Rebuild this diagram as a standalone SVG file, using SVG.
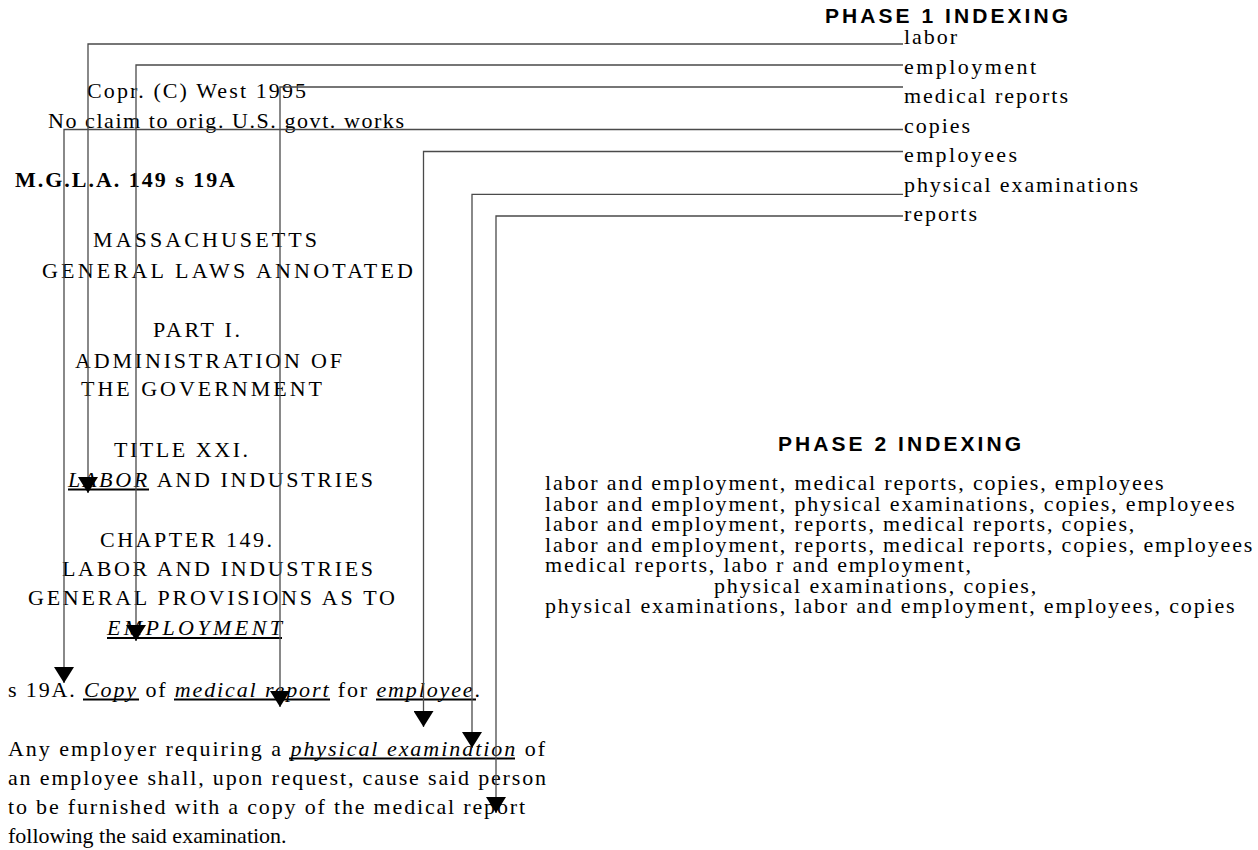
<svg xmlns="http://www.w3.org/2000/svg" width="1258" height="850" viewBox="0 0 1258 850">
<style>
  .t { font-family: "Liberation Serif", "Times New Roman", serif; font-size: 22px; fill: #000; }
  .b { font-weight: bold; }
  .h { font-family: "Liberation Sans", Arial, sans-serif; font-size: 21px; font-weight: bold; fill: #000; }
  .i { font-style: italic; }
  .ul { stroke: #000; stroke-width: 2; }
  .p2 { letter-spacing: 1.84px; }
  .c { fill: none; stroke: #4a4a4a; stroke-width: 1.3; marker-end: url(#arr); }
</style>
<defs>
  <marker id="arr" markerUnits="userSpaceOnUse" viewBox="0 0 16 20" refX="16" refY="10" markerWidth="16" markerHeight="20" orient="auto">
    <path d="M0,0 L16,10 L0,20 Z" fill="#000"/>
  </marker>
</defs>
<rect width="1258" height="850" fill="#fff"/>

<g id="document">
  <text class="t" x="87" y="98" textLength="219" lengthAdjust="spacing">Copr. (C) West 1995</text>
  <text class="t" x="48" y="128" textLength="356" lengthAdjust="spacing">No claim to orig. U.S. govt. works</text>
  <text class="t b" x="15" y="187" textLength="220" lengthAdjust="spacing">M.G.L.A. 149 s 19A</text>
  <text class="t" x="93" y="247" textLength="224" lengthAdjust="spacing">MASSACHUSETTS</text>
  <text class="t" x="42" y="278" textLength="371" lengthAdjust="spacing">GENERAL LAWS ANNOTATED</text>
  <text class="t" x="153" y="337" textLength="87" lengthAdjust="spacing">PART I.</text>
  <text class="t" x="75" y="368" textLength="267" lengthAdjust="spacing">ADMINISTRATION OF</text>
  <text class="t" x="81" y="396" textLength="241" lengthAdjust="spacing">THE GOVERNMENT</text>
  <text class="t" x="114" y="457" textLength="134" lengthAdjust="spacing">TITLE XXI.</text>
  <text class="t" x="68" y="487" textLength="305" lengthAdjust="spacing"><tspan class="i">LABOR</tspan> AND INDUSTRIES</text>
  <text class="t" x="100" y="547" textLength="172" lengthAdjust="spacing">CHAPTER 149.</text>
  <text class="t" x="62" y="576" textLength="311" lengthAdjust="spacing">LABOR AND INDUSTRIES</text>
  <text class="t" x="28" y="605" textLength="367" lengthAdjust="spacing">GENERAL PROVISIONS AS TO</text>
  <text class="t i" x="107" y="635" textLength="175" lengthAdjust="spacing">EMPLOYMENT</text>
  <text class="t" x="8" y="697" textLength="472" lengthAdjust="spacing">s 19A. <tspan class="i">Copy</tspan> of <tspan class="i">medical report</tspan> for <tspan class="i">employee</tspan>.</text>
  <text class="t" x="8" y="756" textLength="537" lengthAdjust="spacing">Any employer requiring a <tspan class="i">physical examination</tspan> of</text>
  <text class="t" x="8" y="785" textLength="538" lengthAdjust="spacing">an employee shall, upon request, cause said person</text>
  <text class="t" x="8" y="814" textLength="517" lengthAdjust="spacing">to be furnished with a copy of the medical report</text>
  <text class="t" x="8" y="843">following the said examination.</text>
  <g id="underlines">
    <line class="ul" x1="68" y1="489.5" x2="149" y2="489.5"/>
    <line class="ul" x1="107" y1="638" x2="282" y2="638"/>
    <line class="ul" x1="83" y1="699.5" x2="139" y2="699.5"/>
    <line class="ul" x1="174" y1="699.5" x2="330" y2="699.5"/>
    <line class="ul" x1="376" y1="699.5" x2="476" y2="699.5"/>
    <line class="ul" x1="289" y1="758.5" x2="515" y2="758.5"/>
  </g>
</g>

<g id="phase1">
  <text class="h" x="825" y="23" textLength="243" lengthAdjust="spacing">PHASE 1 INDEXING</text>
  <g id="term-labor"><text class="t" x="904" y="44" textLength="53" lengthAdjust="spacing">labor</text></g>
  <g id="term-employment"><text class="t" x="904" y="73.5" textLength="132" lengthAdjust="spacing">employment</text></g>
  <g id="term-medical-reports"><text class="t" x="904" y="103" textLength="164" lengthAdjust="spacing">medical reports</text></g>
  <g id="term-copies"><text class="t" x="904" y="132.5" textLength="66" lengthAdjust="spacing">copies</text></g>
  <g id="term-employees"><text class="t" x="904" y="162" textLength="113" lengthAdjust="spacing">employees</text></g>
  <g id="term-physical-examinations"><text class="t" x="904" y="192" textLength="234" lengthAdjust="spacing">physical examinations</text></g>
  <g id="term-reports"><text class="t" x="904" y="221" textLength="73" lengthAdjust="spacing">reports</text></g>
</g>

<g id="phase2">
  <text class="h" x="778" y="451" textLength="243" lengthAdjust="spacing">PHASE 2 INDEXING</text>
  <text class="t p2" x="545" y="490">labor and employment, medical reports, copies, employees</text>
  <text class="t p2" x="545" y="510.5">labor and employment, physical examinations, copies, employees</text>
  <text class="t p2" x="545" y="531">labor and employment, reports, medical reports, copies,</text>
  <text class="t p2" x="545" y="551.5">labor and employment, reports, medical reports, copies, employees</text>
  <text class="t p2" x="545" y="572">medical reports, labo r and employment,</text>
  <text class="t p2" x="714" y="592.5">physical examinations, copies,</text>
  <text class="t p2" x="545" y="613">physical examinations, labor and employment, employees, copies</text>
</g>

<g id="connectors">
  <polyline class="c" points="903,44 88,44 88,493"/>
  <polyline class="c" points="903,65 136,65 136,641"/>
  <polyline class="c" points="903,87 280,87 280,707"/>
  <polyline class="c" points="903,129.5 64,129.5 64,683"/>
  <polyline class="c" points="903,151.5 423.5,151.5 423.5,727"/>
  <polyline class="c" points="903,194.3 472,194.3 472,748"/>
  <polyline class="c" points="903,216 496,216 496,813"/>
</g>
</svg>
